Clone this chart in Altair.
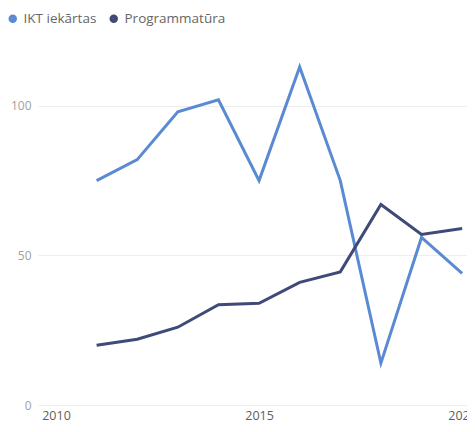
import altair as alt
import pandas as pd

years = [2011, 2012, 2013, 2014, 2015, 2016, 2017, 2018, 2019, 2020]
ikt = [75, 82, 98, 102, 75, 113, 75, 14, 56, 44]
prog = [20, 22, 26, 33.5, 34, 41, 44.5, 67, 57, 59]
series = ["IKT iekārtas", "Programmatūra"]
colors = ["#5A8AD2", "#404A78"]

rows = []
for y, v in zip(years, ikt):
    rows.append({"Gads": y, "Vērtība": v, "Sērija": series[0]})
for y, v in zip(years, prog):
    rows.append({"Gads": y, "Vērtība": v, "Sērija": series[1]})
df = pd.DataFrame(rows)

font = "Open Sans"

chart = alt.Chart(df).mark_line(strokeWidth=3, clip=False).encode(
    x=alt.X("Gads:Q",
            scale=alt.Scale(domain=[2009.557, 2020.12], nice=False, zero=False),
            axis=alt.Axis(values=[2010, 2015, 2020], format="d", title=None,
                          grid=False, domain=False, ticks=False,
                          labelPadding=4, labelFontSize=12.5, labelColor="#605E5C",
                          labelFont=font, labelOverlap=False, labelFlush=False)),
    y=alt.Y("Vērtība:Q",
            scale=alt.Scale(domain=[0, 125], nice=False),
            axis=alt.Axis(values=[0, 50, 100], title=None, domain=False, ticks=False,
                          gridColor="#eeeeee", labelPadding=7, labelFontSize=12,
                          labelColor="#a0a0a0", labelFont=font)),
    color=alt.Color("Sērija:N",
                    scale=alt.Scale(domain=series, range=colors),
                    legend=alt.Legend(title=None, orient="none", legendX=-32, legendY=-19,
                                      direction="horizontal", symbolType="circle",
                                      symbolSize=20, symbolStrokeWidth=4,
                                      labelFontSize=13.5, labelColor="#666666",
                                      labelFont=font, columnPadding=6, labelOffset=4)),
    order="Gads:Q",
).properties(
    width=429, height=374,
    padding={"left": 30, "top": 23, "right": 0, "bottom": 19},
    autosize=alt.AutoSizeParams(type="none"),
).configure_view(stroke=None)

chart.save("out.html", embed_options={"renderer": "svg", "actions": False})
